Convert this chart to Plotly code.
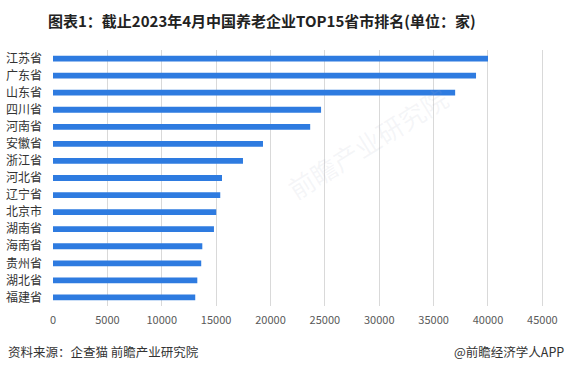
import plotly.graph_objects as go

provinces = ["江苏省", "广东省", "山东省", "四川省", "河南省", "安徽省", "浙江省", "河北省",
             "辽宁省", "北京市", "湖南省", "海南省", "贵州省", "湖北省", "福建省"]
counts = [40000, 38900, 36980, 24650, 23650, 19310, 17470, 15540,
          15380, 15010, 14800, 13730, 13630, 13270, 13080]
x_ticks = [0, 5000, 10000, 15000, 20000, 25000, 30000, 35000, 40000, 45000]

title_text = "图表1：截止2023年4月中国养老企业TOP15省市排名(单位：家)"
source_text = "资料来源：企查猫 前瞻产业研究院"
brand_text = "@前瞻经济学人APP"
watermark_text = "前瞻产业研究院"

FONT = "Noto Sans CJK SC, Microsoft YaHei, sans-serif"

fig = go.Figure(go.Bar(
    x=counts,
    y=provinces,
    orientation="h",
    marker=dict(color="#2E7BE0", line=dict(width=0)),
    width=0.34,
))

fig.update_layout(
    width=566, height=372,
    margin=dict(l=53, r=22, t=50, b=66, autoexpand=False),
    paper_bgcolor="white",
    plot_bgcolor="white",
    font=dict(family=FONT, color="#333333"),
    showlegend=False,
    xaxis=dict(
        range=[0, 45150],
        tickvals=x_ticks,
        ticktext=[str(v) for v in x_ticks],
        showgrid=True,
        gridcolor="#D9D9D9",
        gridwidth=1,
        zeroline=False,
        showline=False,
        ticks="",
        ticklabelstandoff=6,
        automargin=False,
        tickfont=dict(size=11, color="#595959", family=FONT),
        fixedrange=True,
    ),
    yaxis=dict(
        categoryorder="array",
        categoryarray=provinces,
        autorange="reversed",
        showgrid=False,
        zeroline=False,
        showline=False,
        ticks="",
        ticklabelstandoff=10,
        automargin=False,
        tickfont=dict(size=12, color="#333333", family=FONT),
        fixedrange=True,
    ),
    annotations=[
        dict(text=watermark_text, x=0.64, y=0.64, xref="paper", yref="paper",
             xanchor="center", yanchor="middle", textangle=-32, showarrow=False,
             font=dict(size=26, color="rgba(170,175,195,0.12)", family=FONT)),
        dict(text="<b>" + title_text + "</b>", x=0.5, y=1, xref="paper", yref="paper",
             xanchor="center", yanchor="middle", yshift=30, xshift=-37, showarrow=False,
             font=dict(size=15, color="#222222", family=FONT)),
        dict(text=source_text, x=0, xref="paper", y=0, yref="paper", xshift=-47, yshift=-45,
             xanchor="left", yanchor="middle", showarrow=False,
             font=dict(size=12.5, color="#333333", family=FONT)),
        dict(text=brand_text, x=1, xref="paper", y=0, yref="paper", xshift=22, yshift=-45,
             xanchor="right", yanchor="middle", showarrow=False,
             font=dict(size=12.5, color="#333333", family=FONT)),
    ],
)

fig.write_html("out.html", config={"displayModeBar": False},
               post_script="document.body.style.margin='0';document.body.style.overflow='hidden';")
